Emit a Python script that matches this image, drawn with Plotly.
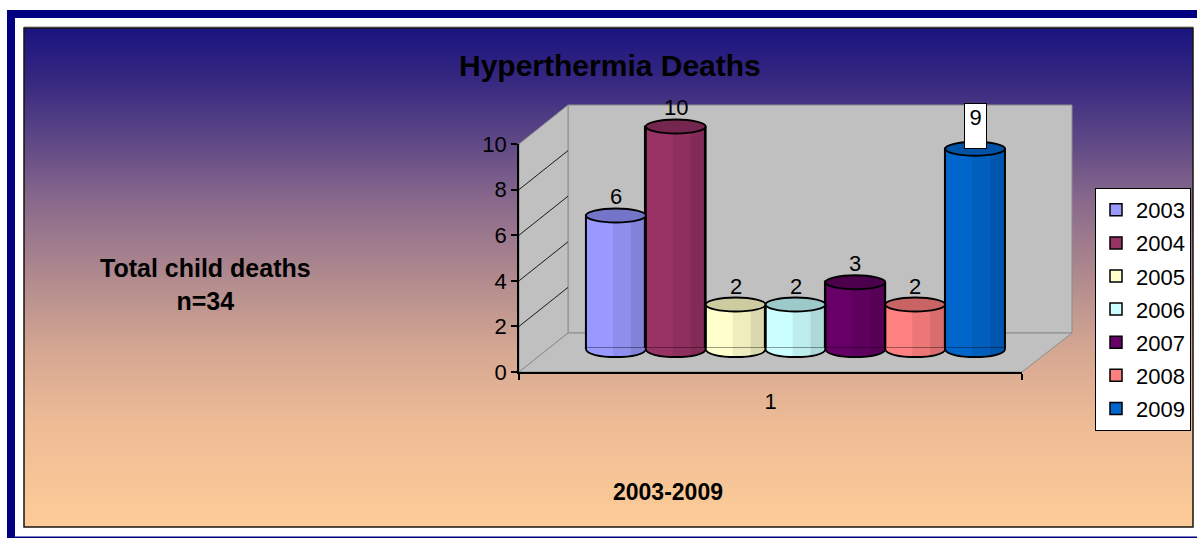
import base64
import plotly.graph_objects as go

# ---- data -------------------------------------------------------------
years = ["2003", "2004", "2005", "2006", "2007", "2008", "2009"]
deaths = [6, 10, 2, 2, 3, 2, 9]
category = ["1"]            # single category label on the floor axis
group_pos = [0]             # serial position of that category
y_ticks = [0, 2, 4, 6, 8, 10]
boxed_years = ["2009"]

title_text = "Hyperthermia Deaths"
note_text = "Total child deaths<br>n=34"
x_title_text = "2003-2009"

# ---- styling ----------------------------------------------------------
bar_colors = ["#9999FF", "#993366", "#FFFFCC", "#CCFFFF", "#660066", "#FF8080", "#0066CC"]
cap_colors = ["#7474C8", "#74264E", "#CCCCA0", "#9CCACA", "#4A004A", "#C86464", "#0052A6"]
FONT = "Arial, Liberation Sans, sans-serif"
W, H = 1197, 538


def px(x):
    return x / W


def py(y):
    return 1 - y / H


# background gradient of the chart area (navy -> peach)
stops = [(0.00, "#1a1480"), (0.10, "#352780"), (0.20, "#554184"), (0.35, "#8a6a8c"),
         (0.50, "#b08a8e"), (0.65, "#d6a892"), (0.80, "#eebc95"), (1.00, "#fdcc98")]
stop_xml = "".join(f'<stop offset="{o}" stop-color="{c}"/>' for o, c in stops)
svg = ('<svg xmlns="http://www.w3.org/2000/svg" width="100" height="100" viewBox="0 0 100 100" '
       'preserveAspectRatio="none"><defs><linearGradient id="g" x1="0" y1="0" x2="0" y2="1">'
       f'{stop_xml}</linearGradient></defs><rect width="100" height="100" fill="url(#g)"/></svg>')
grad_src = "data:image/svg+xml;base64," + base64.b64encode(svg.encode()).decode()

# pixel geometry of the pseudo-3D frame
FRONT_L, FRONT_R, FRONT_B, FRONT_T = 519, 1022, 372, 144     # front y-axis / floor edge
DEPTH_X, DEPTH_Y = 49, 39                                    # offset to the back wall
BACK_L, BACK_R = FRONT_L + DEPTH_X, FRONT_R + DEPTH_X + 1
BACK_B, BACK_T = FRONT_B - DEPTH_Y, FRONT_T - DEPTH_Y
BAR_L, BAR_R, BAR_B, BAR_T = 586, 1005, 349, 126.5           # bar plane: x extent, y of 0 and 10

# bar axes get a little headroom so the rounded caps and bases are not clipped
X_PAD = 0.03
Y_LO, Y_HI = -0.7, 10.7
bar_unit_px = (BAR_B - BAR_T) / 10
bar_w_px = BAR_R - BAR_L

fig = go.Figure()

for yr, v, col in zip(years, deaths, bar_colors):
    fig.add_trace(go.Bar(
        x=group_pos, y=[v], name=yr, legendgroup=yr,
        marker=dict(color=col, line=dict(color="black", width=1.5)),
        xaxis="x3", yaxis="y3", hovertemplate=f"{yr}: %{{y}}<extra></extra>",
    ))

shapes = []
wall = dict(type="path", xref="paper", yref="paper", layer="below",
            fillcolor="#c0c0c0", line=dict(color="#8c8c8c", width=1))


def poly(points):
    return "M " + " L ".join(f"{px(x)},{py(y)}" for x, y in points) + " Z"


shapes.append(dict(wall, path=poly([(BACK_L, BACK_T), (BACK_R, BACK_T), (BACK_R, BACK_B), (BACK_L, BACK_B)])))
shapes.append(dict(wall, path=poly([(FRONT_L, FRONT_T), (BACK_L, BACK_T), (BACK_L, BACK_B), (FRONT_L, FRONT_B)])))
shapes.append(dict(wall, path=poly([(FRONT_L, FRONT_B), (BACK_L, BACK_B), (BACK_R, BACK_B), (FRONT_R, FRONT_B)])))

# side-wall gridlines: from each front tick to the same value on the back wall
unit_px = (FRONT_B - FRONT_T) / (y_ticks[-1] - y_ticks[0])
depth_units = DEPTH_Y / unit_px
for t in y_ticks[1:]:
    shapes.append(dict(type="line", xref="paper", yref="y2", layer="below",
                       x0=px(FRONT_L), x1=px(BACK_L), y0=t, y1=t + depth_units,
                       line=dict(color="#1a1a1a", width=1)))

# page frame
navy = "#000080"
shapes += [
    dict(type="rect", xref="paper", yref="paper", layer="below", x0=px(7), x1=1.01, y0=py(18), y1=py(10),
         fillcolor=navy, line=dict(width=0)),
    dict(type="rect", xref="paper", yref="paper", layer="below", x0=px(7), x1=px(15), y0=-0.01, y1=py(10),
         fillcolor=navy, line=dict(width=0)),
    dict(type="rect", xref="paper", yref="paper", layer="below", x0=px(7), x1=1.01, y0=-0.01, y1=py(536.5),
         fillcolor=navy, line=dict(width=0)),
    dict(type="line", xref="paper", yref="paper", layer="below", x0=px(24), x1=px(1193), y0=py(27), y1=py(27),
         line=dict(color="#8a8a8a", width=1)),
    dict(type="rect", xref="paper", yref="paper", layer="below", x0=px(24), x1=px(1193), y0=py(527), y1=py(28),
         fillcolor="rgba(0,0,0,0)", line=dict(color="#1a1410", width=1.5)),
]

# cylinder decorations for each bar, positioned in the bar axes' own units
n = len(years)
bw = 1.0 / n
cap_h = 7 / bar_unit_px
base_d = 8 / bar_unit_px
eps = 1.2 / bar_unit_px
k = base_d * 4 / 3
annotations = []
for i, (yr, v, col, cap) in enumerate(zip(years, deaths, bar_colors, cap_colors)):
    xl = group_pos[0] - 0.5 + i * bw
    xr = xl + bw
    xs1, xs2 = xl + bw * 0.45, xl + bw * 0.75
    ref = dict(xref="x3", yref="y3", layer="above")
    # rounded base
    shapes.append(dict(ref, type="path", fillcolor=col, line=dict(width=0),
                       path=f"M {xl:.5f},{eps:.5f} L {xl:.5f},0 C {xl:.5f},{-k:.5f} {xr:.5f},{-k:.5f} "
                            f"{xr:.5f},0 L {xr:.5f},{eps:.5f} Z"))
    # shading toward the right side of the cylinder
    shapes.append(dict(ref, type="path", fillcolor="rgba(0,0,0,0.07)", line=dict(width=0),
                       path=f"M {xs1:.5f},{v} L {xs1:.5f},{-base_d * 0.95:.5f} "
                            f"L {xs2:.5f},{-base_d * 0.8:.5f} L {xs2:.5f},{v} Z"))
    shapes.append(dict(ref, type="path", fillcolor="rgba(0,0,0,0.15)", line=dict(width=0),
                       path=f"M {xs2:.5f},{v} L {xs2:.5f},{-base_d * 0.8:.5f} "
                            f"C {xl + bw * 0.9:.5f},{-base_d * 0.6:.5f} {xr:.5f},{-base_d * 0.3:.5f} "
                            f"{xr:.5f},0 L {xr:.5f},{v} Z"))
    # outline of the sides and the curved base
    shapes.append(dict(ref, type="path", fillcolor="rgba(0,0,0,0)", line=dict(color="black", width=1.8),
                       path=f"M {xl:.5f},{v} L {xl:.5f},0 C {xl:.5f},{-k:.5f} {xr:.5f},{-k:.5f} "
                            f"{xr:.5f},0 L {xr:.5f},{v}"))
    # elliptical top
    shapes.append(dict(ref, type="circle", x0=xl, x1=xr, y0=v - cap_h, y1=v + cap_h,
                       fillcolor=cap, line=dict(color="black", width=1.8)))

    label = dict(x=(xl + xr) / 2, y=v, xref="x3", yref="y3", text=str(v), showarrow=False,
                 xanchor="center", yanchor="bottom", font=dict(family=FONT, size=22, color="black"))
    if yr in boxed_years:
        label.update(bgcolor="white", bordercolor="black", borderwidth=1, borderpad=1,
                     width=19, height=42, valign="top", yshift=0)
    else:
        label.update(yshift=4)
    annotations.append(label)

annotations += [
    dict(text=f"<b>{title_text}</b>", x=px(610), y=py(65), xref="paper", yref="paper",
         xanchor="center", yanchor="middle", showarrow=False,
         font=dict(family=FONT, size=30, color="black")),
    dict(text=f"<b>{note_text}</b>", x=px(205), y=py(284), xref="paper", yref="paper",
         xanchor="center", yanchor="middle", showarrow=False,
         font=dict(family=FONT, size=25, color="black")),
    dict(text=f"<b>{x_title_text}</b>", x=px(668), y=py(492), xref="paper", yref="paper",
         xanchor="center", yanchor="middle", showarrow=False,
         font=dict(family=FONT, size=23, color="black")),
]

hidden = dict(showgrid=False, zeroline=False, showticklabels=False, ticks="", showline=False)

fig.update_layout(
    width=W, height=H,
    margin=dict(l=0, r=0, t=0, b=0, autoexpand=False),
    paper_bgcolor="white",
    plot_bgcolor="rgba(0,0,0,0)",
    font=dict(family=FONT, size=22, color="black"),
    barmode="group", bargap=0, bargroupgap=0,
    showlegend=True,
    legend=dict(x=px(1095), y=py(188), xanchor="left", yanchor="top",
                bgcolor="white", bordercolor="black", borderwidth=1,
                font=dict(family=FONT, size=22, color="black"),
                tracegroupgap=1.5, traceorder="grouped"),
    # back wall with its gridlines
    xaxis=dict(domain=[px(BACK_L), px(BACK_R)], range=[0, 1], fixedrange=True, **hidden),
    yaxis=dict(domain=[py(BACK_B), py(BACK_T)], range=[0, 10], anchor="x", dtick=2,
               showgrid=True, gridcolor="#505050", gridwidth=1.5, zeroline=False,
               showticklabels=False, ticks="", showline=False, fixedrange=True),
    # front value axis and floor edge
    xaxis2=dict(domain=[px(FRONT_L), px(FRONT_R)], range=[0, 1], anchor="y2",
                showline=True, linecolor="black", linewidth=1.5, showgrid=False, zeroline=False,
                tickvals=[0.5], ticktext=category, ticks="", ticklen=0, ticklabelstandoff=9,
                minor=dict(tickvals=[0, 1], ticks="outside", ticklen=6, tickcolor="black", tickwidth=1.5),
                tickfont=dict(family=FONT, size=22, color="black"), fixedrange=True),
    yaxis2=dict(domain=[py(FRONT_B), py(FRONT_T)], range=[0, 10], anchor="x2",
                tickvals=y_ticks, showline=True, linecolor="black", linewidth=1.5,
                ticks="outside", ticklen=6, tickcolor="black", tickwidth=1.5,
                showgrid=False, zeroline=False,
                tickfont=dict(family=FONT, size=22, color="black"), fixedrange=True),
    # bars
    xaxis3=dict(domain=[px(BAR_L - X_PAD * bar_w_px), px(BAR_R + X_PAD * bar_w_px)],
                range=[group_pos[0] - 0.5 - X_PAD, group_pos[0] + 0.5 + X_PAD],
                anchor="y3", fixedrange=True, **hidden),
    yaxis3=dict(domain=[py(BAR_B - Y_LO * bar_unit_px), py(BAR_B - Y_HI * bar_unit_px)],
                range=[Y_LO, Y_HI], anchor="x3", fixedrange=True, **hidden),
    shapes=shapes,
    annotations=annotations,
    images=[dict(source=grad_src, xref="paper", yref="paper", x=px(24), y=py(28),
                 sizex=px(1193) - px(24), sizey=py(28) - py(527), sizing="stretch",
                 xanchor="left", yanchor="top", layer="below")],
)

# let the figure fill the page edge to edge
fig.write_html("out.html", config={"displayModeBar": False},
               post_script="document.body.style.margin='0';document.body.style.overflow='hidden';")
